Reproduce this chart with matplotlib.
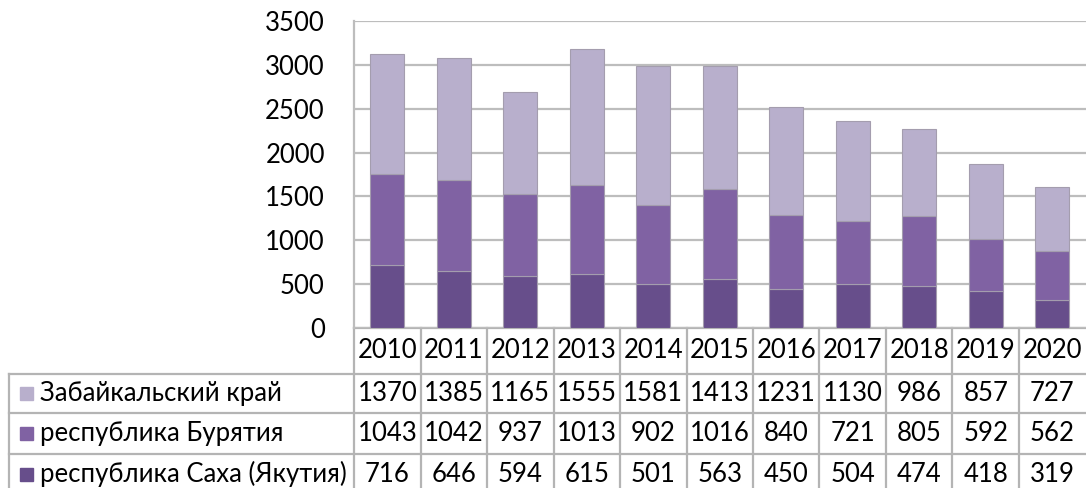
import matplotlib
matplotlib.use("Agg")
import matplotlib.pyplot as plt
import matplotlib.transforms as mtransforms
from matplotlib.patches import Rectangle

years = ["2010", "2011", "2012", "2013", "2014", "2015", "2016", "2017", "2018", "2019", "2020"]
sakha = [716, 646, 594, 615, 501, 563, 450, 504, 474, 418, 319]
buryatia = [1043, 1042, 937, 1013, 902, 1016, 840, 721, 805, 592, 562]
zabaikalsky = [1370, 1385, 1165, 1555, 1581, 1413, 1231, 1130, 986, 857, 727]
series_names = ["Забайкальский край", "республика Бурятия", "республика Саха (Якутия)"]
y_ticks = [0, 500, 1000, 1500, 2000, 2500, 3000, 3500]

col_light = "#b8afcc"
col_mid = "#8062a3"
col_dark = "#674e8b"
grid_col = "#bdbdbd"
FONT = "Lato"
FS = 18.5
TC = "#000000"

W, H = 1086, 488
fig = plt.figure(figsize=(W / 100, H / 100), dpi=100)
plt.rcParams["font.family"] = [FONT, "DejaVu Sans"]

# overlay axes in pixel coords for the table
tab = fig.add_axes([0, 0, 1, 1], zorder=0)
tab.set_xlim(0, W)
tab.set_ylim(H, 0)
tab.axis("off")

left, right, top, bottom = 354, 1086, 21, 328
ax = fig.add_axes([left / W, (H - bottom) / H, (right - left) / W, (bottom - top) / H], zorder=1)
ax.patch.set_alpha(0)
n = len(years)
x = list(range(n))
ax.set_xlim(-0.5, -0.5 + (right - left) / 66.5)
ax.set_ylim(0, 3500)
ax.set_yticks(y_ticks)
ax.set_yticklabels([str(t) for t in y_ticks], fontsize=FS, family=[FONT, "DejaVu Sans"], color=TC)
ax.tick_params(axis="y", length=0, pad=21)
ax.set_xticks([])
ax.yaxis.grid(True, color=grid_col, linewidth=1.6)
ax.set_axisbelow(True)
for s in ["top", "right", "bottom"]:
    ax.spines[s].set_visible(False)
ax.spines["left"].set_color(grid_col)
ax.spines["left"].set_linewidth(1.6)

bw = 0.51
edge = "#a49dae"
ax.bar(x, sakha, bw, color=col_dark, edgecolor=edge, linewidth=0.8, zorder=3)
ax.bar(x, buryatia, bw, bottom=sakha, color=col_mid, edgecolor=edge, linewidth=0.8, zorder=3)
b3 = [a + b for a, b in zip(sakha, buryatia)]
ax.bar(x, zabaikalsky, bw, bottom=b3, color=col_light, edgecolor=edge, linewidth=0.8, zorder=3)

# table
trans = mtransforms.blended_transform_factory(ax.transData, tab.transData)
lc = "#b4b4b4"
lw = 1.6
row_lines = [328, 374, 413, 454, 494]
label_left = 9
tab.plot([left, W], [328, 328], color=lc, lw=lw)
for yy in row_lines[1:4]:
    tab.plot([label_left, W], [yy, yy], color=lc, lw=lw)
tab.plot([label_left, label_left], [374, H + 5], color=lc, lw=lw)
for i in range(n):
    tab.plot([i - 0.5, i - 0.5], [328, H + 5], color=lc, lw=lw, transform=trans)

for i, yv in enumerate(years):
    tab.text(i, 351, yv, ha="center", va="center", fontsize=FS, transform=trans, color=TC)

rows = [(series_names[0], zabaikalsky, col_light),
        (series_names[1], buryatia, col_mid),
        (series_names[2], sakha, col_dark)]
for r, (name, vals, col) in enumerate(rows):
    yc = (row_lines[r + 1] + row_lines[r + 2]) / 2
    tab.add_patch(Rectangle((19.5, yc - 6.5), 13, 13, color=col))
    tab.text(40, yc, name, ha="left", va="center", fontsize=FS, color=TC)
    for i, v in enumerate(vals):
        tab.text(i, yc, str(v), ha="center", va="center", fontsize=FS, transform=trans, color=TC)

fig.savefig("out.png", dpi=100)
